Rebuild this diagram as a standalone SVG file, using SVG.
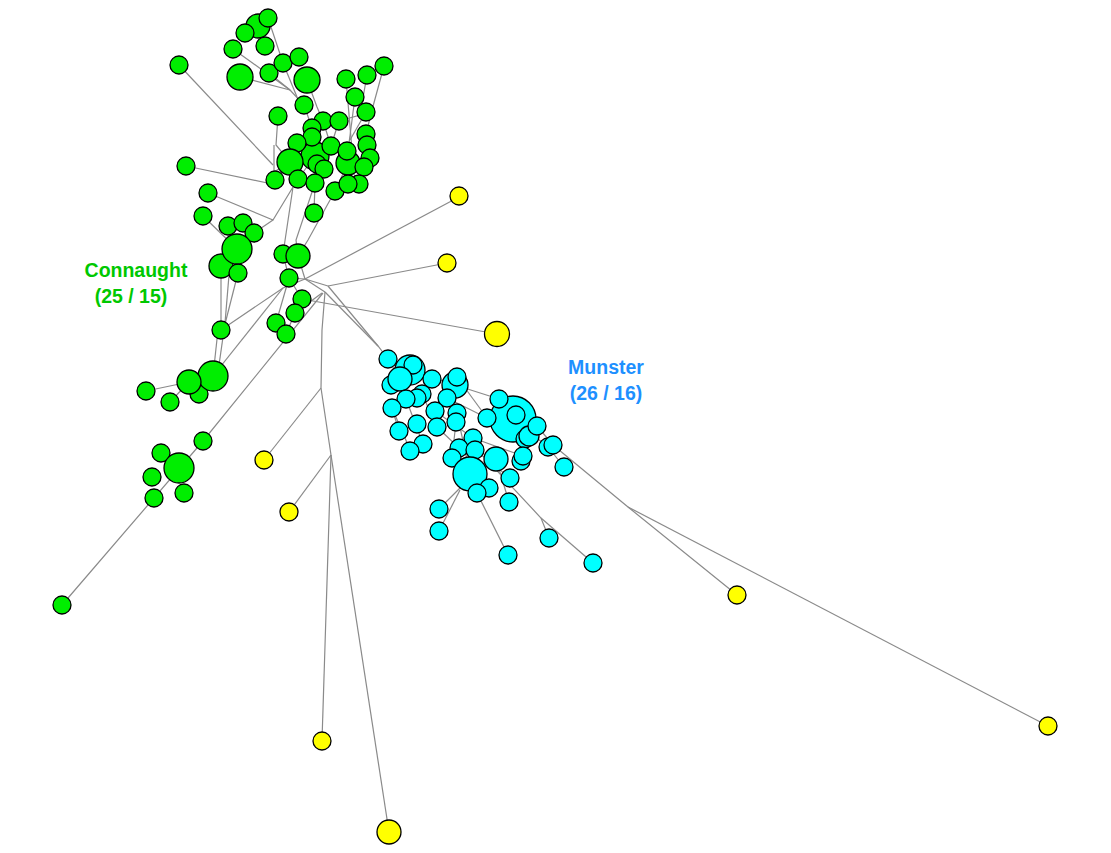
<svg xmlns="http://www.w3.org/2000/svg" width="1111" height="853" viewBox="0 0 1111 853">
<style>
.e{fill:none;stroke:#8a8a8a;stroke-width:1.2}
.g{fill:#00ee00;stroke:#000;stroke-width:1.3}
.c{fill:#00ffff;stroke:#000;stroke-width:1.3}
.y{fill:#ffff00;stroke:#000;stroke-width:1.3}
.lbl{font-family:"Liberation Sans",Arial,sans-serif;font-weight:bold;font-size:19.5px;text-anchor:middle}
</style>
<rect width="1111" height="853" fill="#fff"/>
<g id="connectors" class="e">
<polyline points="305,279 459,197"/>
<polyline points="328,286 447,263"/>
<polyline points="302,299 497,334"/>
<polyline points="328,286 378,346 388,359"/>
<polyline points="325,292 378,346"/>
<polyline points="325,292 322,330 321,388"/>
<polyline points="321,388 264,460"/>
<polyline points="321,388 331,455"/>
<polyline points="331,455 289,512"/>
<polyline points="331,455 322,741"/>
<polyline points="331,455 389,832"/>
<polyline points="305,279 328,286"/>
<polyline points="305,279 325,292"/>
<polyline points="289,278 305,279"/>
<polyline points="305,279 283,288 221,330"/>
<polyline points="283,288 213,376"/>
<polyline points="323,293 203,441 62,605"/>
<polyline points="322,293 295,313"/>
<polyline points="289,278 276,323"/>
<polyline points="289,278 302,299"/>
<polyline points="295,313 286,334"/>
<polyline points="283,254 289,278"/>
<polyline points="298,256 305,279"/>
<polyline points="293,187 283,254"/>
<polyline points="315,183 296,240 298,256"/>
<polyline points="335,191 308,240 298,256"/>
<polyline points="315,183 314,213"/>
<polyline points="208,193 273,220 293,187"/>
<polyline points="254,233 273,220"/>
<polyline points="203,216 237,249"/>
<polyline points="186,166 272,184"/>
<polyline points="179,65 273,165"/>
<polyline points="221,266 221,330"/>
<polyline points="229,275 225,323"/>
<polyline points="238,273 224,328"/>
<polyline points="218,330 213,376"/>
<polyline points="224,330 218,372"/>
<polyline points="146,391 189,382"/>
<polyline points="170,402 189,382"/>
<polyline points="258,26 265,46"/>
<polyline points="268,18 283,63"/>
<polyline points="233,49 290,90"/>
<polyline points="240,77 290,90"/>
<polyline points="283,63 297,97"/>
<polyline points="269,73 290,90 304,105"/>
<polyline points="307,80 317,107 323,121"/>
<polyline points="304,105 312,128"/>
<polyline points="278,116 276,145 290,162"/>
<polyline points="274,145 274,172 290,162"/>
<polyline points="355,97 348,151"/>
<polyline points="346,79 352,150"/>
<polyline points="384,66 372,110 366,134"/>
<polyline points="367,75 360,115 339,121"/>
<polyline points="366,112 350,140"/>
<polyline points="323,121 331,146"/>
<polyline points="339,121 331,146"/>
<polyline points="297,143 290,162"/>
<polyline points="315,156 298,179"/>
<polyline points="315,156 315,183"/>
<polyline points="348,163 335,191"/>
<polyline points="348,163 359,184"/>
<polyline points="331,146 315,156"/>
<polyline points="290,162 275,180"/>
<polyline points="388,359 400,379"/>
<polyline points="410,370 432,379"/>
<polyline points="410,370 455,385 499,399"/>
<polyline points="457,377 487,418"/>
<polyline points="447,398 487,418 513,419"/>
<polyline points="392,408 411,452"/>
<polyline points="399,431 392,408"/>
<polyline points="406,399 423,444"/>
<polyline points="422,394 437,427"/>
<polyline points="435,411 473,438"/>
<polyline points="457,413 470,474"/>
<polyline points="456,422 452,458"/>
<polyline points="437,427 459,448"/>
<polyline points="473,438 523,456"/>
<polyline points="475,450 510,478"/>
<polyline points="496,459 509,502"/>
<polyline points="470,474 460,488 439,509"/>
<polyline points="460,490 439,531"/>
<polyline points="477,493 508,555"/>
<polyline points="487,460 541,518 549,538"/>
<polyline points="541,518 593,563"/>
<polyline points="513,419 548,447"/>
<polyline points="537,426 553,445"/>
<polyline points="548,447 564,467"/>
<polyline points="553,445 628,507 737,595"/>
<polyline points="628,507 1048,726"/>
</g>
<g id="n_g1"><circle class="g" cx="258" cy="26" r="12"/></g>
<g id="n_g2"><circle class="g" cx="268" cy="18" r="9"/></g>
<g id="n_g3"><circle class="g" cx="245" cy="33" r="9"/></g>
<g id="n_g4"><circle class="g" cx="233" cy="49" r="9"/></g>
<g id="n_g5"><circle class="g" cx="265" cy="46" r="9"/></g>
<g id="n_g6"><circle class="g" cx="240" cy="77" r="13"/></g>
<g id="n_g7"><circle class="g" cx="269" cy="73" r="9"/></g>
<g id="n_g8"><circle class="g" cx="283" cy="63" r="9"/></g>
<g id="n_g9"><circle class="g" cx="299" cy="57" r="9"/></g>
<g id="n_g10"><circle class="g" cx="307" cy="80" r="13"/></g>
<g id="n_g11"><circle class="g" cx="304" cy="105" r="9"/></g>
<g id="n_g12"><circle class="g" cx="179" cy="65" r="9"/></g>
<g id="n_g13"><circle class="g" cx="278" cy="116" r="9"/></g>
<g id="n_g14"><circle class="g" cx="346" cy="79" r="9"/></g>
<g id="n_g15"><circle class="g" cx="367" cy="75" r="9"/></g>
<g id="n_g16"><circle class="g" cx="384" cy="66" r="9"/></g>
<g id="n_g17"><circle class="g" cx="355" cy="97" r="9"/></g>
<g id="n_g18"><circle class="g" cx="366" cy="112" r="9"/></g>
<g id="n_g19"><circle class="g" cx="315" cy="156" r="14"/></g>
<g id="n_g20"><circle class="g" cx="323" cy="121" r="9"/></g>
<g id="n_g21"><circle class="g" cx="339" cy="121" r="9"/></g>
<g id="n_g22"><circle class="g" cx="312" cy="128" r="9"/></g>
<g id="n_g23"><circle class="g" cx="312" cy="137" r="9"/></g>
<g id="n_g24"><circle class="g" cx="366" cy="134" r="9"/></g>
<g id="n_g25"><circle class="g" cx="367" cy="145" r="9"/></g>
<g id="n_g26"><circle class="g" cx="370" cy="158" r="9"/></g>
<g id="n_g27"><circle class="g" cx="297" cy="143" r="9"/></g>
<g id="n_g28"><circle class="g" cx="331" cy="146" r="9"/></g>
<g id="n_g29"><circle class="g" cx="348" cy="163" r="12"/></g>
<g id="n_g30"><circle class="g" cx="347" cy="151" r="9"/></g>
<g id="n_g31"><circle class="g" cx="290" cy="162" r="13"/></g>
<g id="n_g32"><circle class="g" cx="317" cy="164" r="9"/></g>
<g id="n_g33"><circle class="g" cx="324" cy="169" r="9"/></g>
<g id="n_g34"><circle class="g" cx="364" cy="167" r="9"/></g>
<g id="n_g35"><circle class="g" cx="275" cy="180" r="9"/></g>
<g id="n_g36"><circle class="g" cx="298" cy="179" r="9"/></g>
<g id="n_g37"><circle class="g" cx="315" cy="183" r="9"/></g>
<g id="n_g38"><circle class="g" cx="335" cy="191" r="9"/></g>
<g id="n_g39"><circle class="g" cx="359" cy="184" r="9"/></g>
<g id="n_g40"><circle class="g" cx="348" cy="184" r="9"/></g>
<g id="n_g41"><circle class="g" cx="186" cy="166" r="9"/></g>
<g id="n_g42"><circle class="g" cx="208" cy="193" r="9"/></g>
<g id="n_g43"><circle class="g" cx="203" cy="216" r="9"/></g>
<g id="n_g44"><circle class="g" cx="228" cy="226" r="9"/></g>
<g id="n_g45"><circle class="g" cx="243" cy="223" r="9"/></g>
<g id="n_g46"><circle class="g" cx="254" cy="233" r="9"/></g>
<g id="n_g47"><circle class="g" cx="221" cy="266" r="12"/></g>
<g id="n_g48"><circle class="g" cx="238" cy="273" r="9"/></g>
<g id="n_g49"><circle class="g" cx="237" cy="249" r="15"/></g>
<g id="n_g50"><circle class="g" cx="314" cy="213" r="9"/></g>
<g id="n_g51"><circle class="g" cx="283" cy="254" r="9"/></g>
<g id="n_g52"><circle class="g" cx="298" cy="256" r="12"/></g>
<g id="n_g53"><circle class="g" cx="289" cy="278" r="9"/></g>
<g id="n_g54"><circle class="g" cx="302" cy="299" r="9"/></g>
<g id="n_g55"><circle class="g" cx="295" cy="313" r="9"/></g>
<g id="n_g56"><circle class="g" cx="276" cy="323" r="9"/></g>
<g id="n_g57"><circle class="g" cx="286" cy="334" r="9"/></g>
<g id="n_g58"><circle class="g" cx="221" cy="330" r="9"/></g>
<g id="n_g59"><circle class="g" cx="199" cy="394" r="9"/></g>
<g id="n_g60"><circle class="g" cx="213" cy="376" r="15"/></g>
<g id="n_g61"><circle class="g" cx="189" cy="382" r="12"/></g>
<g id="n_g62"><circle class="g" cx="146" cy="391" r="9"/></g>
<g id="n_g63"><circle class="g" cx="170" cy="402" r="9"/></g>
<g id="n_g64"><circle class="g" cx="203" cy="441" r="9"/></g>
<g id="n_g65"><circle class="g" cx="161" cy="453" r="9"/></g>
<g id="n_g66"><circle class="g" cx="179" cy="468" r="15"/></g>
<g id="n_g67"><circle class="g" cx="152" cy="477" r="9"/></g>
<g id="n_g68"><circle class="g" cx="184" cy="493" r="9"/></g>
<g id="n_g69"><circle class="g" cx="154" cy="498" r="9"/></g>
<g id="n_g70"><circle class="g" cx="62" cy="605" r="9"/></g>
<g id="n_y1"><circle class="y" cx="459" cy="196" r="9"/></g>
<g id="n_y2"><circle class="y" cx="447" cy="263" r="9"/></g>
<g id="n_y3"><circle class="y" cx="497" cy="334" r="12.5"/></g>
<g id="n_y4"><circle class="y" cx="264" cy="460" r="9"/></g>
<g id="n_y5"><circle class="y" cx="289" cy="512" r="9"/></g>
<g id="n_y6"><circle class="y" cx="737" cy="595" r="9"/></g>
<g id="n_y7"><circle class="y" cx="1048" cy="726" r="9"/></g>
<g id="n_y8"><circle class="y" cx="322" cy="741" r="9"/></g>
<g id="n_y9"><circle class="y" cx="389" cy="832" r="12"/></g>
<g id="n_c1"><circle class="c" cx="410" cy="370" r="15"/></g>
<g id="n_c2"><circle class="c" cx="388" cy="359" r="9"/></g>
<g id="n_c3"><circle class="c" cx="413" cy="365" r="9"/></g>
<g id="n_c4"><circle class="c" cx="391" cy="385" r="9"/></g>
<g id="n_c5"><circle class="c" cx="400" cy="379" r="12"/></g>
<g id="n_c6"><circle class="c" cx="432" cy="379" r="9"/></g>
<g id="n_c7"><circle class="c" cx="455" cy="385" r="13"/></g>
<g id="n_c8"><circle class="c" cx="457" cy="377" r="9"/></g>
<g id="n_c9"><circle class="c" cx="422" cy="394" r="9"/></g>
<g id="n_c10"><circle class="c" cx="417" cy="398" r="9"/></g>
<g id="n_c11"><circle class="c" cx="406" cy="399" r="9"/></g>
<g id="n_c12"><circle class="c" cx="392" cy="408" r="9"/></g>
<g id="n_c13"><circle class="c" cx="447" cy="398" r="9"/></g>
<g id="n_c14"><circle class="c" cx="435" cy="411" r="9"/></g>
<g id="n_c15"><circle class="c" cx="457" cy="413" r="9"/></g>
<g id="n_c16"><circle class="c" cx="456" cy="422" r="9"/></g>
<g id="n_c17"><circle class="c" cx="417" cy="424" r="9"/></g>
<g id="n_c18"><circle class="c" cx="437" cy="427" r="9"/></g>
<g id="n_c19"><circle class="c" cx="399" cy="431" r="9"/></g>
<g id="n_c20"><circle class="c" cx="423" cy="444" r="9"/></g>
<g id="n_c21"><circle class="c" cx="410" cy="451" r="9"/></g>
<g id="n_c22"><circle class="c" cx="513" cy="419" r="23"/></g>
<g id="n_c23"><circle class="c" cx="499" cy="399" r="9"/></g>
<g id="n_c24"><circle class="c" cx="516" cy="415" r="9"/></g>
<g id="n_c25"><circle class="c" cx="487" cy="418" r="9"/></g>
<g id="n_c26"><circle class="c" cx="525" cy="439" r="9"/></g>
<g id="n_c27"><circle class="c" cx="529" cy="436" r="10"/></g>
<g id="n_c28"><circle class="c" cx="537" cy="426" r="9"/></g>
<g id="n_c29"><circle class="c" cx="548" cy="447" r="9"/></g>
<g id="n_c30"><circle class="c" cx="553" cy="445" r="9"/></g>
<g id="n_c31"><circle class="c" cx="564" cy="467" r="9"/></g>
<g id="n_c32"><circle class="c" cx="521" cy="461" r="9"/></g>
<g id="n_c33"><circle class="c" cx="523" cy="456" r="9"/></g>
<g id="n_c34"><circle class="c" cx="473" cy="438" r="9"/></g>
<g id="n_c35"><circle class="c" cx="459" cy="448" r="9"/></g>
<g id="n_c36"><circle class="c" cx="475" cy="450" r="9"/></g>
<g id="n_c37"><circle class="c" cx="452" cy="458" r="9"/></g>
<g id="n_c38"><circle class="c" cx="496" cy="459" r="12"/></g>
<g id="n_c39"><circle class="c" cx="470" cy="474" r="17"/></g>
<g id="n_c40"><circle class="c" cx="489" cy="488" r="9"/></g>
<g id="n_c41"><circle class="c" cx="477" cy="493" r="9"/></g>
<g id="n_c42"><circle class="c" cx="510" cy="478" r="9"/></g>
<g id="n_c43"><circle class="c" cx="509" cy="502" r="9"/></g>
<g id="n_c44"><circle class="c" cx="439" cy="509" r="9"/></g>
<g id="n_c45"><circle class="c" cx="439" cy="531" r="9"/></g>
<g id="n_c46"><circle class="c" cx="508" cy="555" r="9"/></g>
<g id="n_c47"><circle class="c" cx="549" cy="538" r="9"/></g>
<g id="n_c48"><circle class="c" cx="593" cy="563" r="9"/></g>
<g id="label_connaught">
<text class="lbl" x="136" y="277" fill="#00c800">Connaught</text>
<text class="lbl" x="131" y="303" fill="#00c800">(25 / 15)</text>
</g>
<g id="label_munster">
<text class="lbl" x="606" y="374" fill="#1e90ff">Munster</text>
<text class="lbl" x="606" y="400" fill="#1e90ff">(26 / 16)</text>
</g>
</svg>
